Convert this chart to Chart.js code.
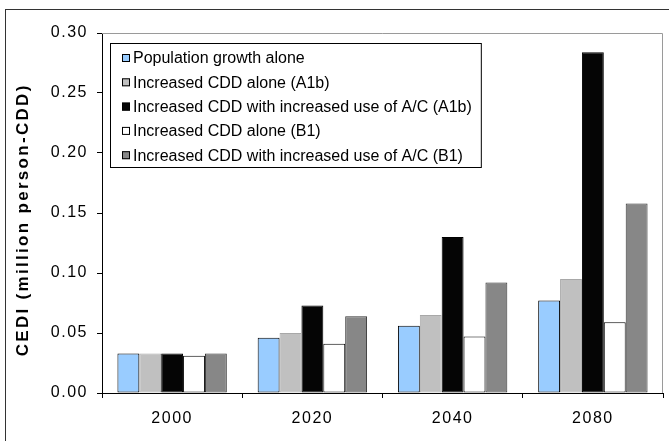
<!DOCTYPE html>
<html>
<head>
<meta charset="utf-8">
<script src="https://cdn.jsdelivr.net/npm/chart.js@4.4.1/dist/chart.umd.min.js"></script>
<style>
  html, body { margin: 0; padding: 0; background: #fff; overflow: hidden; }
  #wrap { position: relative; width: 669px; height: 441px; }
  #frame { position: absolute; left: 5px; top: 9px; width: 720px; height: 520px; border: 1px solid #333; pointer-events: none; }
</style>
</head>
<body>
<div id="wrap">
  <canvas id="chart"></canvas>
  <div id="frame"></div>
</div>
<script>
// ==================== DATA ====================
const years = ['2000', '2020', '2040', '2080'];
const popGrowth = [0.033, 0.046, 0.056, 0.077];
const cddA1b = [0.033, 0.050, 0.065, 0.095];
const cddAcA1b = [0.033, 0.073, 0.130, 0.284];
const cddB1 = [0.031, 0.041, 0.047, 0.059];
const cddAcB1 = [0.033, 0.064, 0.092, 0.158];
const yTicks = [0, 0.05, 0.10, 0.15, 0.20, 0.25, 0.30];
const yTitle = 'CEDI (million person-CDD)';

const FONT = '"Liberation Sans", Arial, sans-serif';

// ==================== PLUGINS ====================
// wider Excel-like spacing for tick labels
const spacing = {
  id: 'spacing',
  beforeDraw(chart) { chart.ctx.letterSpacing = '1.5px'; }
};

// plot area border, rotated axis title, boxed legend inside the plot
const boxLegend = {
  id: 'boxLegend',
  afterDraw(chart) {
    const { ctx, chartArea: a } = chart;
    ctx.save();
    ctx.strokeStyle = '#9a9a9a';
    ctx.lineWidth = 1;
    ctx.beginPath();
    ctx.moveTo(a.left, a.top + 0.5);
    ctx.lineTo(a.right - 0.5, a.top + 0.5);
    ctx.lineTo(a.right - 0.5, a.bottom);
    ctx.stroke();

    // y axis title
    ctx.save();
    ctx.letterSpacing = '2.3px';
    ctx.font = 'bold 17px ' + FONT;
    ctx.fillStyle = '#000';
    ctx.textAlign = 'center';
    ctx.textBaseline = 'middle';
    ctx.translate(23, 221);
    ctx.rotate(-Math.PI / 2);
    ctx.fillText(yTitle, 1.2, 0);
    ctx.restore();

    // legend
    const sets = chart.data.datasets;
    const x0 = 110, y0 = 43, rowH = 24.3, textX = 133;
    ctx.letterSpacing = '0px';
    ctx.font = '16px ' + FONT;
    let maxW = 0;
    sets.forEach(d => maxW = Math.max(maxW, ctx.measureText(d.label).width));
    const w = textX - x0 + maxW + 9;
    const h = 124;
    ctx.fillStyle = '#fff';
    ctx.fillRect(x0, y0, w, h);
    ctx.strokeStyle = '#000';
    ctx.strokeRect(x0 + 0.5, y0 + 0.5, w, h);

    ctx.textBaseline = 'middle';
    sets.forEach((d, i) => {
      const cy = y0 + 15 + i * rowH;
      ctx.fillStyle = d.backgroundColor;
      ctx.fillRect(122, cy - 4, 8, 8);
      ctx.strokeStyle = '#000';
      ctx.strokeRect(122.5, cy - 3.5, 7, 7);
      ctx.fillStyle = '#000';
      ctx.fillText(d.label, textX, cy + 1);
    });
    ctx.restore();
  }
};

// ==================== CHART ====================
new Chart(document.getElementById('chart'), {
  type: 'bar',
  data: {
    labels: years,
    datasets: [
      { label: 'Population growth alone', data: popGrowth, backgroundColor: '#99ccff', borderColor: '#000' },
      { label: 'Increased CDD alone (A1b)', data: cddA1b, backgroundColor: '#c0c0c0', borderColor: '#a8a8a8' },
      { label: 'Increased CDD with increased use of A/C (A1b)', data: cddAcA1b, backgroundColor: '#050505', borderColor: '#000' },
      { label: 'Increased CDD alone (B1)', data: cddB1, backgroundColor: '#ffffff', borderColor: '#000' },
      { label: 'Increased CDD with increased use of A/C (B1)', data: cddAcB1, backgroundColor: '#878787', borderColor: '#333' }
    ]
  },
  options: {
    responsive: true,
    maintainAspectRatio: false,
    animation: false,
    devicePixelRatio: 1,
    layout: { padding: { left: 0, top: 33, right: 6, bottom: 0 } },
    datasets: { bar: { borderWidth: 1, borderSkipped: false, barPercentage: 1, categoryPercentage: 0.78 } },
    plugins: { legend: { display: false }, tooltip: { enabled: false } },
    scales: {
      x: {
        afterFit: s => { s.height = 48; },
        grid: { offset: true, drawOnChartArea: false, tickLength: 5, color: '#000' },
        border: { color: '#000' },
        ticks: { color: '#000', padding: 11, font: { family: FONT, size: 16 } }
      },
      y: {
        min: 0,
        max: 0.30,
        afterFit: s => { s.width = 102; },
        afterBuildTicks: s => { s.ticks = yTicks.map(v => ({ value: v })); },
        grid: { drawOnChartArea: false, tickLength: 5, color: '#000' },
        border: { color: '#000' },
        ticks: { color: '#000', padding: 9, font: { family: FONT, size: 16 }, callback: v => v.toFixed(2) }
      }
    }
  },
  plugins: [spacing, boxLegend]
});
</script>
</body>
</html>
